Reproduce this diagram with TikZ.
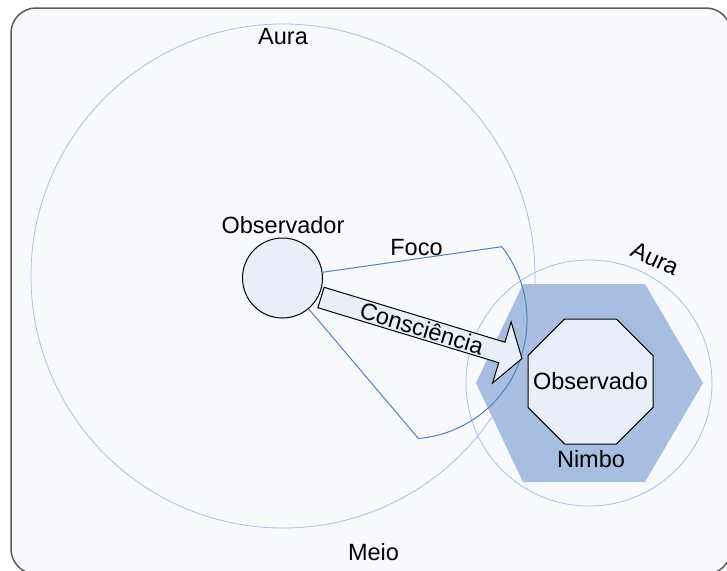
\documentclass[tikz,border=0pt]{standalone}
\usepackage{fontspec}
\setmainfont{Liberation Sans}
\usetikzlibrary{shapes.geometric}
\definecolor{bgcol}{HTML}{F7F9FD}
\definecolor{framecol}{HTML}{5A5A5A}
\definecolor{auracol}{HTML}{A9BFE6}
\definecolor{focol}{HTML}{4F81BD}
\definecolor{hexcol}{HTML}{A8BEE0}
\definecolor{lightfill}{HTML}{E9EEF8}
\tikzset{
  lbl/.style={font=\fontsize{23.5}{28}\selectfont, inner sep=0pt},
  auraring/.style={circle, draw=auracol, line width=0.8pt, inner sep=0pt},
  focusline/.style={draw=focol, line width=1pt},
  lightshape/.style={draw=black, fill=lightfill, line width=1pt},
}
\begin{document}
\begin{tikzpicture}[x=1pt, y=-1pt]
\useasboundingbox (0,0) rectangle (727,570);
% frame (Meio)
\draw[draw=framecol, fill=bgcol, line width=1.5pt, rounded corners=25pt] (11,8) rectangle (731,574);
% auras
\node[auraring, minimum size=504pt] (aura1) at (283,276) {};
\node[auraring, minimum size=246pt] (aura2) at (589,383) {};
% nimbo hexagon
\fill[hexcol] (523,284) -- (645,284) -- (703,383) -- (645,482) -- (523,482) -- (476,383) -- cycle;
% observado
\node[lightshape, regular polygon, regular polygon sides=8, minimum size=135.3pt, inner sep=0pt] (obsd) at (590.5,381.5) {};
\node[lbl, anchor=base] (lobsd) at (590.5,389) {Observado};
% observador
\node[lightshape, circle, minimum size=80pt, inner sep=0pt] (obs) at (282.5,278) {};
% focus
\coordinate (fa) at (501.8,246.7);
\draw[focusline] (obs) -- (fa) arc[start angle=-38, end angle=85, radius=119] -- (obs);
% awareness arrow
\begin{scope}[shift={(321,297.5)}, rotate=-16.9]
  \draw[lightshape, line join=miter] (0,-10.7) -- (189,-10.7) -- (189,-32) -- (210,0) -- (189,32) -- (189,10.7) -- (0,10.7) -- cycle;
  \node[lbl, rotate=-16.9, anchor=center] (consc) at (105.5,0) {Consciência};
\end{scope}
% labels
\node[lbl, anchor=base] (laura1) at (283,44) {Aura};
\node[lbl, anchor=base] (lobs) at (283,233) {Observador};
\node[lbl, anchor=base] (lfoco) at (416.5,255) {Foco};
\node[lbl, anchor=base, rotate=-25] (laura2) at (651.5,266) {Aura};
\node[lbl, anchor=base] (lnimbo) at (591,467.5) {Nimbo};
\node[lbl, anchor=base] (lmeio) at (373.5,560) {Meio};
\end{tikzpicture}
\end{document}
